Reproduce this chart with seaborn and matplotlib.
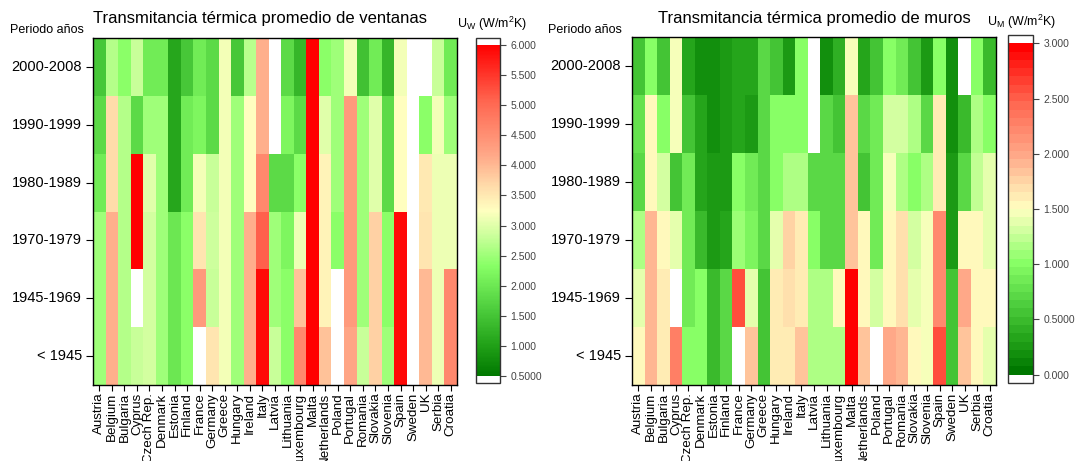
import numpy as np
import pandas as pd
import matplotlib
matplotlib.use("Agg")
import matplotlib.pyplot as plt
from matplotlib.colors import LinearSegmentedColormap
import seaborn as sns

countries = ["Austria", "Belgium", "Bulgaria", "Cyprus", "Czech Rep.", "Denmark", "Estonia",
             "Finland", "France", "Germany", "Greece", "Hungary", "Ireland", "Italy", "Latvia",
             "Lithuania", "Luxembourg", "Malta", "Netherlands", "Poland", "Portugal", "Romania",
             "Slovakia", "Slovenia", "Spain", "Sweden", "UK", "Serbia", "Croatia"]
periods = ["2000-2008", "1990-1999", "1980-1989", "1970-1979", "1945-1969", "< 1945"]
nan = np.nan

# Window U-values (W/m2K) per period
uw_2000_2008 = [1.55, 2.65, 2.35, 2.8, 2.05, 2.05, 1.1, 1.55, 2.05, 1.8, 3.15, 1.55, 2.7, 4.1, nan,
                1.8, 1.3, 6.0, 2.35, 2.5, 3.15, 1.45, 2.05, 1.3, 3.15, nan, nan, 2.8, 2.05]
uw_1990_1999 = [1.8, 3.65, 2.65, 1.8, 2.5, 2.5, 1.1, 2.05, 2.2, 1.8, 3.15, 2.5, 3.25, 4.1, nan,
                2.2, 1.8, 6.0, 3.0, 2.5, 4.35, 2.5, 3.0, 1.8, 3.25, nan, 2.35, 3.15, 2.5]
uw_1980_1989 = [2.05, 3.65, 2.65, 6.0, 3.0, 2.5, 1.1, 2.05, 3.15, 2.8, 3.15, 2.5, 3.25, 4.6, 1.8,
                1.8, 2.35, 6.0, 3.4, 2.5, 4.35, 2.5, 3.0, 1.8, 3.25, nan, 3.5, 3.1, 3.1]
uw_1970_1979 = [2.5, 4.1, 2.65, 6.0, 2.9, 2.5, 2.0, 2.35, 3.55, 2.85, 3.15, 2.5, 4.1, 5.1, 2.5,
                2.2, 3.1, 6.0, 3.4, 2.35, 4.35, 2.5, 3.75, 2.35, 5.9, nan, 3.55, 3.1, 3.1]
uw_1945_1969 = [2.5, 4.1, 2.65, nan, 2.9, 2.5, 2.0, 2.35, 4.35, 2.8, 3.15, 2.5, 4.1, 5.9, 2.5,
                2.35, 3.9, 6.0, 3.4, nan, 4.35, 2.5, 3.75, 2.35, 5.9, nan, 4.0, 3.1, 4.6]
uw_pre_1945 = [2.5, 4.1, 2.65, 2.8, 2.9, 2.5, 2.0, 2.35, nan, 3.55, 3.15, 2.5, 4.1, 5.9, 2.8,
               2.35, 4.6, 6.0, 3.9, nan, 4.2, 2.8, 3.75, 2.5, 5.9, nan, 4.0, 3.1, 4.6]

# Wall U-values (W/m2K) per period
um_2000_2008 = [0.6, 1.0, 0.55, 1.45, 0.35, 0.2, 0.2, 0.28, 0.35, 0.35, 0.7, 0.55, 0.28, 1.0, nan,
                0.2, 0.4, 1.45, 0.35, 0.55, 1.0, 0.85, 0.55, 0.28, 1.0, 0.2, nan, 1.0, 0.45]
um_1990_1999 = [0.75, 1.5, 1.0, 1.45, 0.55, 0.35, 0.2, 0.28, 0.35, 0.28, 0.7, 1.0, 1.0, 1.0, nan,
                0.7, 0.55, 1.85, 0.7, 0.85, 1.3, 1.3, 1.15, 0.7, 1.65, 0.2, 0.5, 1.15, 1.0]
um_1980_1989 = [0.7, 1.5, 1.3, 0.55, 0.85, 0.35, 0.28, 0.28, 1.0, 0.85, 0.7, 1.0, 1.2, 1.15, 0.7,
                0.7, 0.7, 1.85, 0.55, 0.85, 1.45, 1.2, 1.0, 1.15, 1.65, 0.28, 0.7, 1.25, 1.35]
um_1970_1979 = [1.15, 1.9, 1.5, 1.4, 0.85, 0.45, 0.28, 0.35, 1.1, 0.9, 0.7, 1.35, 1.75, 1.65, 1.0,
                0.7, 0.7, 1.85, 1.5, 0.85, 1.5, 1.7, 1.3, 1.45, 2.2, 0.28, 1.5, 1.5, 1.35]
um_1945_1969 = [1.35, 1.9, 1.65, nan, 0.85, 1.0, 0.45, 0.7, 2.6, 1.35, 0.55, 1.65, 1.7, 1.65, 1.15,
                1.15, 1.5, 2.95, 1.5, 1.3, 1.5, 1.7, 1.35, 1.45, 2.2, 0.55, 2.0, 1.5, 1.5]
um_pre_1945 = [1.5, 1.9, 1.65, 2.3, 1.0, 1.0, 0.45, 0.7, nan, 1.85, 0.55, 1.65, 1.65, 1.85, 1.15,
               1.15, 1.15, 2.95, 1.85, nan, 2.0, 1.9, 1.5, 1.45, 2.6, 0.55, 1.85, 1.5, 1.35]

uw_ticks = [0.5, 1.0, 1.5, 2.0, 2.5, 3.0, 3.5, 4.0, 4.5, 5.0, 5.5, 6.0]
uw_ticklabels = ["0.5000", "1.000", "1.500", "2.000", "2.500", "3.000", "3.500", "4.000",
                 "4.500", "5.000", "5.500", "6.000"]
um_ticks = [0.0, 0.5, 1.0, 1.5, 2.0, 2.5, 3.0]
um_ticklabels = ["0.000", "0.5000", "1.000", "1.500", "2.000", "2.500", "3.000"]

df_w = pd.DataFrame([uw_2000_2008, uw_1990_1999, uw_1980_1989, uw_1970_1979, uw_1945_1969, uw_pre_1945],
                    index=periods, columns=countries)
df_m = pd.DataFrame([um_2000_2008, um_1990_1999, um_1980_1989, um_1970_1979, um_1945_1969, um_pre_1945],
                    index=periods, columns=countries)

nodes = [0.0, 0.1, 0.2, 0.333, 0.42, 0.5, 0.58, 0.667, 0.83, 1.0]
cols = ["#007800", "#24a41a", "#4ccc3c", "#88ff66", "#c8ff99", "#ffffc0", "#ffd8a8",
        "#ffa888", "#ff6650", "#ff0000"]
cmap_w = LinearSegmentedColormap.from_list("uw", list(zip(nodes, cols)), N=256)
cmap_w.set_over("white"); cmap_w.set_under("white")
cmap_m = LinearSegmentedColormap.from_list("um", list(zip(nodes, cols)), N=40)
cmap_m.set_over("white"); cmap_m.set_under("white")

plt.rcParams["font.family"] = ["Liberation Sans", "DejaVu Sans"]

W, H = 1075, 461
fig = plt.figure(figsize=(W / 100, H / 100), dpi=100)

def fx(x):
    return x / W

def box(x0, y0, x1, y1):
    return [x0 / W, 1 - y1 / H, (x1 - x0) / W, (y1 - y0) / H]

ax1 = fig.add_axes(box(93, 38, 457, 385))
cax1 = fig.add_axes(box(476, 38, 500, 383))
ax2 = fig.add_axes(box(632, 37, 996, 385))
cax2 = fig.add_axes(box(1008, 35, 1033, 383))

def draw(ax, cax, df, cmap, vmin, vmax, ticks, ticklabels, efrac):
    sns.heatmap(df, ax=ax, cmap=cmap, vmin=vmin, vmax=vmax, cbar_ax=cax,
                cbar_kws={"extend": "both", "extendrect": True, "extendfrac": efrac},
                xticklabels=True, yticklabels=True)
    for sp in ax.spines.values():
        sp.set_visible(True)
        sp.set_linewidth(1.0)
        sp.set_color("black")
    ax.tick_params(axis="x", labelsize=9.6, rotation=90, length=4, direction="out", pad=1.5)
    ax.tick_params(axis="y", labelsize=10.5, rotation=0, length=5, direction="out", pad=3)
    ax.set_xlabel(""); ax.set_ylabel("")
    cb = ax.collections[0].colorbar
    cb.outline.set_visible(True)
    cb.outline.set_linewidth(1.0)
    cb.outline.set_edgecolor("#333333")
    cb.set_ticks(ticks)
    cb.set_ticklabels(ticklabels)
    cax.tick_params(labelsize=7.5, colors="#444444", length=4, width=0.8)

draw(ax1, cax1, df_w, cmap_w, 0.5, 6.0, uw_ticks, uw_ticklabels, 0.02)
draw(ax2, cax2, df_m, cmap_m, 0.0, 3.0, um_ticks, um_ticklabels, 0.025)

fig.text(fx(260), 1 - 18 / H, "Transmitancia térmica promedio de ventanas", ha="center", va="center",
         fontsize=12)
fig.text(fx(814), 1 - 18 / H, "Transmitancia térmica promedio de muros", ha="center", va="center",
         fontsize=12)
fig.text(fx(10), 1 - 30 / H, "Periodo años", ha="left", va="center", fontsize=9)
fig.text(fx(548), 1 - 30 / H, "Periodo años", ha="left", va="center", fontsize=9)
fig.text(fx(457), 1 - 24 / H, r"U$_\mathregular{W}$ (W/m$^\mathregular{2}$K)", ha="left", va="center",
         fontsize=9)
fig.text(fx(987), 1 - 22 / H, r"U$_\mathregular{M}$ (W/m$^\mathregular{2}$K)", ha="left", va="center",
         fontsize=9)

fig.savefig("out.png", dpi=100)
